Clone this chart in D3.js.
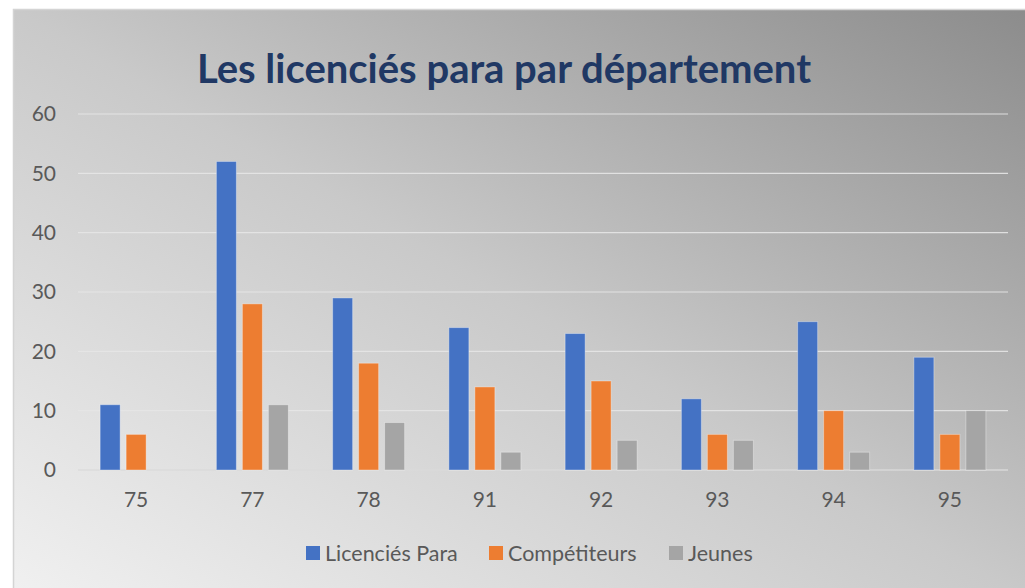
<!DOCTYPE html>
<html lang="fr">
<head>
<meta charset="UTF-8">
<title>Les licenciés para par département</title>
<script src="https://cdn.jsdelivr.net/npm/d3@7"></script>
<style>
    body { margin: 0; background: #fff; }
    text { font-family: Lato, "Open Sans", sans-serif; }
</style>
</head>
<body>
<div id="chart"></div>
<script>
const departements = ["75", "77", "78", "91", "92", "93", "94", "95"];
const seriesNames = ["Licenciés Para", "Compétiteurs", "Jeunes"];
const licencies = [11, 52, 29, 24, 23, 12, 25, 19];
const competiteurs = [6, 28, 18, 14, 15, 6, 10, 6];
const jeunes = [0, 11, 8, 3, 5, 5, 3, 10];
const yTicks = [0, 10, 20, 30, 40, 50, 60];
const colors = ["#4472C4", "#ED7D31", "#A5A5A5"];

const W = 1025, H = 588;
const svg = d3.select("#chart").append("svg")
    .attr("width", W).attr("height", H);

const defs = svg.append("defs");
const grad = defs.append("linearGradient")
    .attr("id", "bg").attr("x1", 0).attr("y1", 1).attr("x2", 1).attr("y2", 0);
grad.append("stop").attr("offset", "0%").attr("stop-color", "#f2f2f2");
grad.append("stop").attr("offset", "50%").attr("stop-color", "#c9c9c9");
grad.append("stop").attr("offset", "100%").attr("stop-color", "#8a8a8a");

// chart frame
svg.append("rect")
    .attr("x", 13.5).attr("y", 9.5)
    .attr("width", W + 20).attr("height", H + 20)
    .attr("fill", "url(#bg)")
    .attr("stroke", "#d4d4d4").attr("stroke-width", 1.5);

svg.append("text")
    .attr("x", 504).attr("y", 83)
    .attr("text-anchor", "middle")
    .attr("font-size", 40).attr("font-weight", "bold")
    .attr("fill", "#203864")
    .text("Les licenciés para par département");

const plotLeft = 78, plotRight = 1008, plotTop = 114, plotBottom = 470;

const x = d3.scaleBand().domain(departements).range([plotLeft, plotRight]).padding(0);
const y = d3.scaleLinear().domain([0, 60]).range([plotBottom, plotTop]);

// gridlines
svg.append("g").selectAll("line")
    .data(yTicks).enter().append("line")
    .attr("x1", plotLeft).attr("x2", plotRight)
    .attr("y1", d => y(d)).attr("y2", d => y(d))
    .attr("stroke", d => d === 0 ? "#d9d9d9" : "#e6e6e6")
    .attr("stroke-opacity", 0.9)
    .attr("stroke-width", d => d === 0 ? 1.5 : 1.2);

// y axis labels
const yAxis = svg.append("g")
    .attr("transform", `translate(${plotLeft - 22},0)`)
    .call(d3.axisLeft(y).tickValues(yTicks).tickSize(0).tickPadding(0));
yAxis.select(".domain").remove();
yAxis.selectAll("text")
    .attr("font-size", 21).attr("fill", "#595959")
    .attr("font-family", "Lato, 'Open Sans', sans-serif");

// x axis labels
const xAxis = svg.append("g")
    .attr("transform", `translate(0,${plotBottom})`)
    .call(d3.axisBottom(x).tickSize(0).tickPadding(22));
xAxis.select(".domain").remove();
xAxis.selectAll("text")
    .attr("font-size", 21).attr("fill", "#595959")
    .attr("font-family", "Lato, 'Open Sans', sans-serif");

// bars
const data = departements.map((d, i) => ({
    dep: d,
    values: [licencies[i], competiteurs[i], jeunes[i]]
}));
const barW = 20, gap = 6;
const inner = d3.scaleBand().domain([0, 1, 2])
    .range([-(3 * barW + 2 * gap) / 2, (3 * barW + 2 * gap) / 2])
    .paddingInner(gap / (barW + gap));

const groups = svg.append("g").selectAll("g")
    .data(data).enter().append("g")
    .attr("transform", d => `translate(${x(d.dep) + x.bandwidth() / 2},0)`);

groups.selectAll("rect")
    .data(d => d.values.map((v, k) => ({ v, k })).filter(e => e.v > 0))
    .enter().append("rect")
    .attr("x", e => inner(e.k))
    .attr("width", inner.bandwidth())
    .attr("y", e => y(e.v))
    .attr("height", e => y(0) - y(e.v))
    .attr("fill", e => colors[e.k])
    .attr("stroke", "#ffffff").attr("stroke-opacity", 0.35).attr("stroke-width", 1);

// legend
const legendX = [306, 489, 669];
const legend = svg.append("g").selectAll("g")
    .data(seriesNames).enter().append("g")
    .attr("transform", (d, i) => `translate(${legendX[i]},553)`);
legend.append("rect")
    .attr("x", 0).attr("y", -7).attr("width", 14).attr("height", 14)
    .attr("fill", (d, i) => colors[i]);
legend.append("text")
    .attr("x", 19).attr("y", 0).attr("dy", "0.35em")
    .attr("font-size", 21.5).attr("fill", "#595959")
    .text(d => d);
</script>
</body>
</html>
